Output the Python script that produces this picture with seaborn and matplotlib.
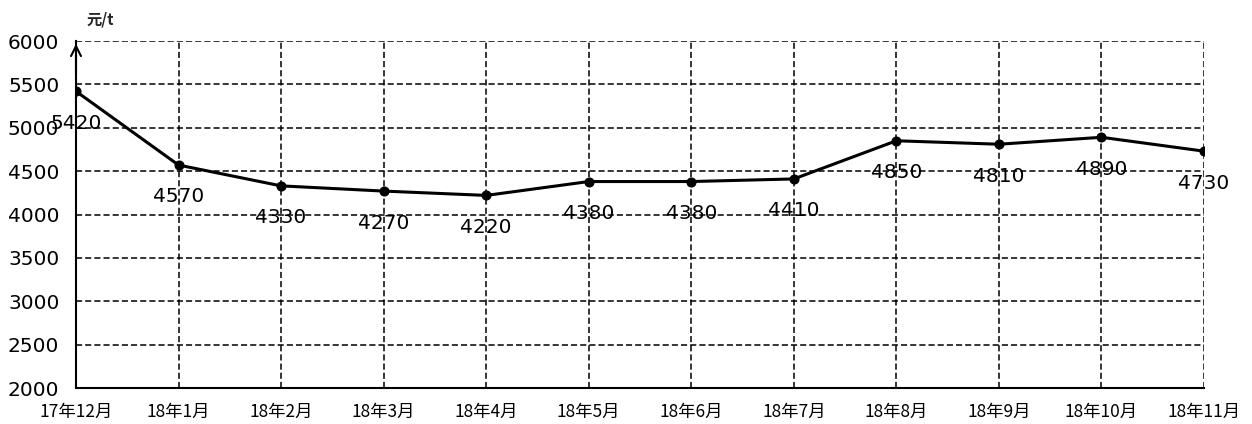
import matplotlib
matplotlib.use("Agg")
import matplotlib.pyplot as plt
import seaborn as sns
import pandas as pd

months = ["17年12月", "18年1月", "18年2月", "18年3月", "18年4月", "18年5月",
          "18年6月", "18年7月", "18年8月", "18年9月", "18年10月", "18年11月"]
prices = [5420, 4570, 4330, 4270, 4220, 4380, 4380, 4410, 4850, 4810, 4890, 4730]
yticks = [2000, 2500, 3000, 3500, 4000, 4500, 5000, 5500, 6000]
unit_label = "元/t"

sns.set_theme(style="white")
plt.rcParams['font.family'] = ['Noto Sans CJK SC', 'DejaVu Sans']

df = pd.DataFrame({"idx": range(len(months)), "price": prices})

fig = plt.figure(figsize=(12.52, 4.24), dpi=100)
ax = fig.add_axes([0.0607, 0.0849, 0.9010, 0.8184])

sns.lineplot(data=df, x="idx", y="price", ax=ax, color="black", linewidth=2.2,
             marker="o", markersize=6.5, markeredgecolor="black", zorder=3)

ax.set_xlim(0, len(months) - 1)
ax.set_ylim(yticks[0], yticks[-1])
ax.set_yticks(yticks)
ax.set_xticks(range(len(months)))
ax.set_xticklabels(months, fontsize=12.5, fontweight="medium")
ax.set_yticklabels([str(v) for v in yticks], fontsize=14.5, family=['DejaVu Sans'])
ax.set_xlabel("")
ax.set_ylabel("")
ax.grid(True, color="black", linestyle=(0, (4, 2)), linewidth=1.1)
ax.tick_params(axis="y", length=0, pad=12, colors="black")
ax.tick_params(axis="x", length=0, pad=10.5, colors="black")

for s in ["top", "right"]:
    ax.spines[s].set_visible(False)
for s in ["left", "bottom"]:
    ax.spines[s].set_color("black")
    ax.spines[s].set_linewidth(1.5)

for i, v in enumerate(prices):
    ax.annotate(str(v), (i, v), xytext=(0, -23), textcoords="offset points",
                ha="center", va="center", fontsize=14.5, color="black",
                family=['DejaVu Sans'])

ax.annotate("", xy=(0, 1.0), xytext=(0, 0.9), xycoords="axes fraction",
            arrowprops=dict(arrowstyle="->", color="black", lw=1.5,
                            mutation_scale=18), annotation_clip=False)
fig.text(0.0695, 0.953, unit_label, fontsize=11, ha="left", va="center",
         fontweight="bold")

fig.savefig("out.png", dpi=100)
